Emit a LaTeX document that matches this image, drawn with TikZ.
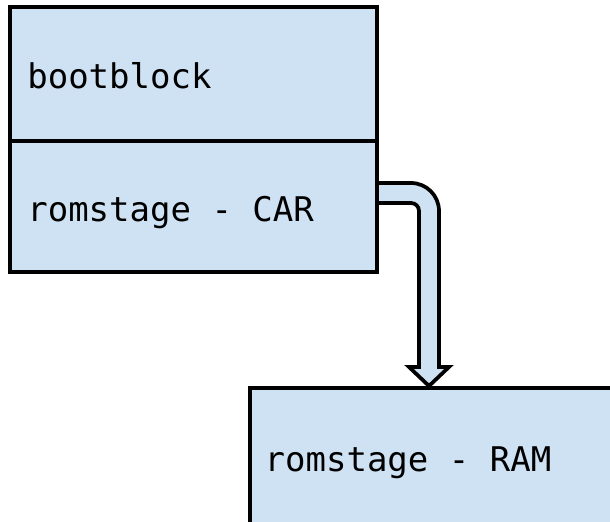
\documentclass[tikz,border=0pt]{standalone}
\usepackage{fontspec}
\setmonofont{DejaVu Sans Mono}
\usetikzlibrary{positioning,calc}
\newcommand{\stagefont}{\ttfamily\fontsize{25.5}{30}\selectfont}

\begin{document}
\begin{tikzpicture}[x=0.75pt,y=-0.75pt,
    stagebox/.style={draw=black, line width=2.8pt, fill=stagefill, outer sep=0pt,
        anchor=north west, align=flush left, inner xsep=13pt,
        font=\stagefont, text height=22pt, text depth=0pt},
    flowarrow/.style={draw=black, line width=2.8pt, fill=stagefill, line join=miter}]
    % Soft blue used by every block
    \definecolor{stagefill}{RGB}{207, 226, 243}

    % Page frame
    \useasboundingbox (0,0) rectangle (610,521);

    % Flash stages stacked on the left
    \node[stagebox, text width=249.25pt, minimum height=100.5pt] (bootblock) at (10,7) {bootblock};
    \node[stagebox, text width=249.25pt, minimum height=98.25pt] (romcar) at (bootblock.south west) {romstage - CAR};

    % RAM stage, running off the page
    \node[stagebox, inner xsep=11pt, text width=272pt, minimum height=102.5pt] (romram) at (250,388) {romstage - RAM};

    % Bent block arrow from CAR stage down to RAM stage
    \coordinate (flowtop) at ($(romcar.east)+(2,-23.5)$);
    \coordinate (flowbot) at ($(romcar.east)+(2,-3.5)$);
    \coordinate (flowtip) at ($(romram.north west)+(179,-2)$);
    \coordinate (flowbend) at ($(flowtop -| flowtip)+(10,0)$);
    \draw[flowarrow] (flowtop) [rounded corners=21pt] -- (flowbend)
        [sharp corners] -- ($(flowtip)+(10,-19)$) -- ++(10,0) -- (flowtip)
        -- ($(flowtip)+(-20,-19)$) -- ++(10,0) -- ++(0,-10)
        [rounded corners=6pt] |- (flowbot);

\end{tikzpicture}
\end{document}
